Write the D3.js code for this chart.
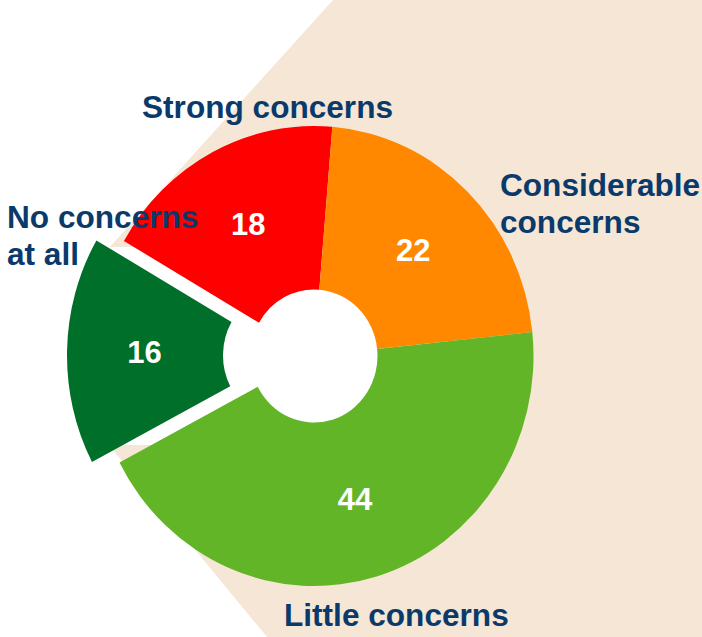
<!DOCTYPE html>
<html>
<head>
<meta charset="utf-8">
<script src="https://cdn.jsdelivr.net/npm/d3@7"></script>
<style>
  html, body { margin: 0; padding: 0; background: #ffffff; }
  svg { display: block; }
</style>
</head>
<body>
<svg id="chart" width="702" height="637"></svg>
<script>
// Survey answers, clockwise from the upper left
const categories = ["Strong concerns", "Considerable concerns", "Little concerns", "No concerns at all"];
const values = [18, 22, 44, 16];
const sliceColors = ["#FF0000", "#FF8800", "#62B526", "#006F2A"];
const labelLines = [["Strong concerns"], ["Considerable", "concerns"], ["Little concerns"], ["No concerns", "at all"]];
const explodedCategory = "No concerns at all";

// Placement of the category captions (left x, first baseline)
const captionLayout = [
  { x: 142, y: 118 },
  { x: 500, y: 196 },
  { x: 284, y: 626 },
  { x: 7,   y: 228 }
];

const W = 702, H = 637;
const svg = d3.select("#chart");

// Beige backdrop panel and the white plot strip in front of it
svg.append("polygon")
  .attr("points", [[333, 0], [W, 0], [W, H], [267, H], [24, 342]].map(p => p.join(",")).join(" "))
  .attr("fill", "#F5E6D5");
svg.append("rect")
  .attr("x", 0).attr("y", 247).attr("width", 450).attr("height", 198)
  .attr("fill", "#ffffff");

// Donut geometry (drawn slightly taller than wide)
const cx = 314, cy = 356, outerR = 219.5, innerR = 63.5, squashY = 1.048, explodeBy = 27.5;
const deg = Math.PI / 180;
const start = -60 * deg;

const pie = d3.pie().sort(null).value(d => d.value)
  .startAngle(start).endAngle(start + 2 * Math.PI);
const slices = pie(categories.map((c, i) => ({ category: c, value: values[i], color: sliceColors[i], lines: labelLines[i] })));
const arc = d3.arc().innerRadius(innerR).outerRadius(outerR);

const offsetOf = d => {
  if (d.data.category !== explodedCategory) return [0, 0];
  const a = (d.startAngle + d.endAngle) / 2;
  return [explodeBy * Math.sin(a), -explodeBy * Math.cos(a)];
};

const g = svg.append("g").attr("transform", `translate(${cx},${cy}) scale(1,${squashY})`);
g.selectAll("path.slice").data(slices).join("path")
  .attr("class", "slice")
  .attr("d", arc)
  .attr("fill", d => d.data.color)
  .attr("transform", d => { const o = offsetOf(d); return `translate(${o[0]},${o[1]})`; });

// Value labels inside the slices
const valueR = 142;
svg.selectAll("text.value").data(slices).join("text")
  .attr("class", "value")
  .attr("x", d => { const a = (d.startAngle + d.endAngle) / 2; return cx + valueR * Math.sin(a) + offsetOf(d)[0]; })
  .attr("y", d => { const a = (d.startAngle + d.endAngle) / 2; return cy + (-valueR * Math.cos(a) + offsetOf(d)[1]) * squashY; })
  .attr("dy", "0.36em")
  .attr("text-anchor", "middle")
  .attr("font-family", "'Liberation Sans', Arial, Helvetica, sans-serif")
  .attr("font-weight", "bold")
  .attr("font-size", 31)
  .attr("fill", "#ffffff")
  .text(d => d.data.value);

// Category captions
const caps = svg.selectAll("text.caption").data(slices).join("text")
  .attr("class", "caption")
  .attr("x", (d, i) => captionLayout[i].x)
  .attr("y", (d, i) => captionLayout[i].y)
  .attr("font-family", "'Liberation Sans', Arial, Helvetica, sans-serif")
  .attr("font-weight", "bold")
  .attr("font-size", 31.6)
  .attr("fill", "#0A3A6B");
caps.each(function (d, i) {
  d3.select(this).selectAll("tspan").data(d.data.lines).join("tspan")
    .attr("x", captionLayout[i].x)
    .attr("dy", (t, j) => j === 0 ? 0 : 37)
    .text(t => t);
});
</script>
</body>
</html>
